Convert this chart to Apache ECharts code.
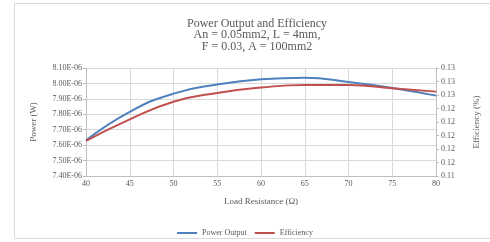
<!DOCTYPE html>
<html lang="en">
<head>
    <meta charset="UTF-8">
    <title>Power Output and Efficiency</title>
    <style>
        html, body { margin: 0; padding: 0; background: #fff; }
        #chart { width: 490px; height: 242px; }
    </style>
</head>
<body>
    <div id="chart"></div>
    <script src="https://cdn.jsdelivr.net/npm/echarts@6/dist/echarts.min.js"></script>
    <script>
        // load resistance (ohm)
        var resistance = [40, 45, 50, 55, 60, 65, 70, 75, 80];
        // power output (W)
        var power = [7.631e-6, 7.816e-6, 7.934e-6, 7.993e-6, 8.027e-6, 8.037e-6, 8.010e-6, 7.971e-6, 7.921e-6];
        // efficiency
        var efficiency = [0.1192, 0.1224, 0.1250, 0.1263, 0.1271, 0.1275, 0.1275, 0.1270, 0.1265];

        var fontFam = "'Liberation Serif', 'DejaVu Serif', serif";
        var grey = '#595959';

        function pairs(xs, ys) {
            var out = [];
            for (var i = 0; i < xs.length; i++) out.push([xs[i], ys[i]]);
            return out;
        }

        // Excel style scientific labels, e.g. 8.10E-06
        function sci(v) {
            var s = v.toExponential(2).toUpperCase();
            var p = s.split('E');
            var e = parseInt(p[1], 10);
            var sign = e < 0 ? '-' : '+';
            var a = Math.abs(e);
            return p[0] + 'E' + sign + (a < 10 ? '0' + a : a);
        }

        var chart = echarts.init(document.getElementById('chart'));
        var option = {
            animation: false,
            textStyle: { fontFamily: fontFam },
            graphic: [{
                type: 'rect',
                shape: { x: 14.5, y: 3.5, width: 490, height: 235 },
                style: { fill: 'none', stroke: '#d9d9d9', lineWidth: 1 },
                silent: true
            }],
            title: {
                text: 'Power Output and Efficiency\nAn = 0.05mm2, L = 4mm,\nF = 0.03, A = 100mm2',
                left: 252,
                textAlign: 'center',
                top: 13,
                textStyle: {
                    fontFamily: fontFam,
                    fontWeight: 'normal',
                    fontSize: 12,
                    lineHeight: 11.5,
                    color: grey
                }
            },
            grid: { left: 86, right: 54, top: 68, bottom: 66 },
            legend: {
                bottom: 0,
                left: 'center',
                itemWidth: 20,
                itemHeight: 2,
                itemGap: 8,
                icon: 'rect',
                textStyle: { fontFamily: fontFam, fontSize: 8, color: grey },
                data: ['Power Output', 'Efficiency']
            },
            xAxis: {
                type: 'value',
                min: 40,
                max: 80,
                interval: 5,
                name: 'Load Resistance (\u03A9)',
                nameLocation: 'middle',
                nameGap: 21,
                nameTextStyle: { fontFamily: fontFam, fontSize: 9, color: grey },
                axisLine: { lineStyle: { color: '#bfbfbf' } },
                axisTick: { show: false },
                axisLabel: { fontSize: 8, color: grey, margin: 4 },
                splitLine: { show: true, lineStyle: { color: '#d9d9d9' } }
            },
            yAxis: [{
                type: 'value',
                min: 7.4e-6,
                max: 8.1e-6,
                interval: 0.1e-6,
                name: 'Power (W)',
                nameLocation: 'middle',
                nameGap: 48,
                nameTextStyle: { fontFamily: fontFam, fontSize: 9, color: grey },
                axisLine: { show: true, lineStyle: { color: '#bfbfbf' } },
                axisTick: { show: true, length: 3, lineStyle: { color: '#bfbfbf' } },
                axisLabel: { fontSize: 8, color: grey, margin: 4, formatter: sci },
                splitLine: { show: true, lineStyle: { color: '#d9d9d9' } }
            }, {
                type: 'value',
                position: 'right',
                min: 0.114,
                max: 0.130,
                interval: 0.002,
                name: 'Efficiency (%)',
                nameLocation: 'middle',
                nameGap: 36,
                nameTextStyle: { fontFamily: fontFam, fontSize: 9, color: grey },
                axisLine: { show: true, lineStyle: { color: '#bfbfbf' } },
                axisTick: { show: true, length: 3, lineStyle: { color: '#bfbfbf' } },
                axisLabel: {
                    fontSize: 8, color: grey, margin: 5,
                    formatter: function (v) { return v.toFixed(2); }
                },
                splitLine: { show: false }
            }],
            series: [{
                name: 'Power Output',
                type: 'line',
                yAxisIndex: 0,
                smooth: true,
                showSymbol: false,
                lineStyle: { width: 2, color: '#4f81bd' },
                itemStyle: { color: '#4f81bd' },
                data: pairs(resistance, power)
            }, {
                name: 'Efficiency',
                type: 'line',
                yAxisIndex: 1,
                smooth: true,
                showSymbol: false,
                lineStyle: { width: 2, color: '#c0504d' },
                itemStyle: { color: '#c0504d' },
                data: pairs(resistance, efficiency)
            }]
        };
        chart.setOption(option);
    </script>
</body>
</html>
